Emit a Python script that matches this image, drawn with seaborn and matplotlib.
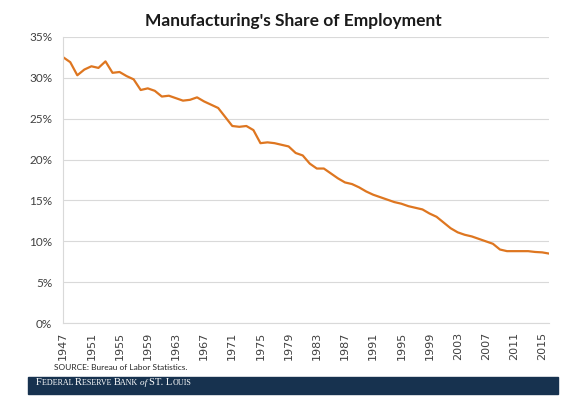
import numpy as np
import pandas as pd
import matplotlib
matplotlib.use("Agg")
import matplotlib.pyplot as plt
import seaborn as sns
from matplotlib.ticker import FuncFormatter

# Manufacturing share of total nonfarm employment, percent
years = list(range(1947, 2017))
share = [
    32.5, 31.9, 30.3, 31.0, 31.4, 31.2, 32.0, 30.6, 30.7, 30.2,
    29.8, 28.5, 28.7, 28.4, 27.7, 27.8, 27.5, 27.2, 27.3, 27.6,
    27.1, 26.7, 26.3, 25.2, 24.1, 24.0, 24.1, 23.6, 22.0, 22.1,
    22.0, 21.8, 21.6, 20.8, 20.5, 19.5, 18.9, 18.9, 18.3, 17.7,
    17.2, 17.0, 16.6, 16.1, 15.7, 15.4, 15.1, 14.8, 14.6, 14.3,
    14.1, 13.9, 13.4, 13.0, 12.3, 11.6, 11.1, 10.8, 10.6, 10.3,
    10.0, 9.7, 9.0, 8.8, 8.8, 8.8, 8.8, 8.7, 8.65, 8.5,
]
tick_years = list(range(1947, 2016, 4))
y_ticks = [0, 5, 10, 15, 20, 25, 30, 35]

title = "Manufacturing's Share of Employment"
source = "SOURCE: Bureau of Labor Statistics."

df = pd.DataFrame({"year": years, "share": share})

sns.set_style("white")
plt.rcParams["font.family"] = ["Lato", "DejaVu Sans"]

fig = plt.figure(figsize=(5.8, 3.96), dpi=100)
ax = fig.add_axes([0.109, 0.184, 0.838, 0.723])

sns.lineplot(data=df, x="year", y="share", ax=ax, color="#DE7620", linewidth=1.6)

ax.set_xlim(1947, 2016)
ax.set_ylim(0, 35)
ax.set_yticks(y_ticks)
ax.yaxis.set_major_formatter(FuncFormatter(lambda v, p: f"{v:.0f}%"))
ax.set_xticks(tick_years)
ax.set_xticklabels([str(y) for y in tick_years], rotation=90, family="DejaVu Sans")
ax.tick_params(axis="x", length=3, color="#BFBFBF", width=0.8, labelsize=8, labelcolor="#404040", pad=3)
ax.tick_params(axis="y", length=0, labelsize=8.5, labelcolor="#404040", pad=8)
ax.set_xlabel("")
ax.set_ylabel("")
ax.grid(axis="y", color="#D9D9D9", linewidth=0.8)
ax.grid(axis="x", visible=False)
for side in ["top", "right"]:
    ax.spines[side].set_visible(False)
ax.spines["left"].set_color("#D9D9D9")
ax.spines["bottom"].set_color("#D9D9D9")
ax.spines["left"].set_linewidth(0.8)
ax.spines["bottom"].set_linewidth(0.8)

fig.text(0.505, 0.947, title, ha="center", va="center", fontsize=12.5, fontweight="bold", color="#1a1a1a")
fig.text(0.093, 0.073, source, ha="left", va="center", fontsize=6, color="#262626")

# footer band
band = plt.Rectangle((0.048, 0.005), 0.914, 0.043, transform=fig.transFigure,
                     color="#17324F", zorder=0)
fig.patches.append(band)

# small caps footer text, drawn piece by piece
pieces = [("F", 7.6, "normal"), ("EDERAL ", 5.8, "normal"), ("R", 7.6, "normal"),
          ("ESERVE ", 5.8, "normal"), ("B", 7.6, "normal"), ("ANK ", 5.8, "normal"),
          ("of ", 6.6, "italic"), ("ST. L", 7.6, "normal"), ("OUIS", 5.8, "normal")]
fig.canvas.draw()
renderer = fig.canvas.get_renderer()
x = 0.062 * 580
for txt, size, style in pieces:
    t = fig.text(x / 580, 0.027, txt, ha="left", va="baseline", fontsize=size,
                 fontstyle=style, color="white", family=["Liberation Serif", "DejaVu Serif"])
    bb = t.get_window_extent(renderer=renderer)
    x = bb.x1

fig.savefig("out.png", dpi=100)
